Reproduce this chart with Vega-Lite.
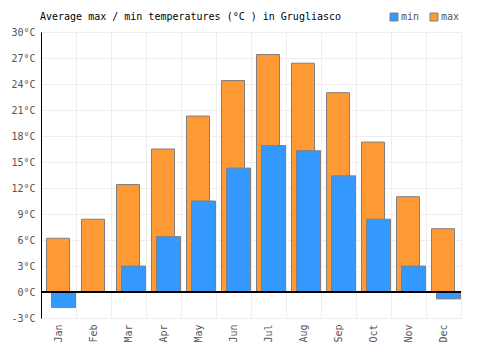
{
  "$schema": "https://vega.github.io/schema/vega-lite/v6.json",
  "width": 420,
  "height": 286,
  "autosize": {"type": "none"},
  "padding": {"left": 41, "top": 32, "right": 39, "bottom": 32},
  "background": "white",
  "config": {
    "font": "DejaVu Sans Mono",
    "view": {"stroke": null}
  },
  "title": {
    "text": "Average max / min temperatures (°C ) in Grugliasco",
    "anchor": "start",
    "frame": "group",
    "offset": 0,
    "dy": 10,
    "fontSize": 10,
    "fontWeight": "normal",
    "color": "#000000",
    "dx": -1
  },
  "data": {
    "values": [
      {"month": "Jan", "type": "max", "value": 6.2},
      {"month": "Feb", "type": "max", "value": 8.4},
      {"month": "Mar", "type": "max", "value": 12.4},
      {"month": "Apr", "type": "max", "value": 16.5},
      {"month": "May", "type": "max", "value": 20.3},
      {"month": "Jun", "type": "max", "value": 24.4},
      {"month": "Jul", "type": "max", "value": 27.4},
      {"month": "Aug", "type": "max", "value": 26.4},
      {"month": "Sep", "type": "max", "value": 23.0},
      {"month": "Oct", "type": "max", "value": 17.3},
      {"month": "Nov", "type": "max", "value": 11.0},
      {"month": "Dec", "type": "max", "value": 7.3},
      {"month": "Jan", "type": "min", "value": -1.8},
      {"month": "Feb", "type": "min", "value": 0},
      {"month": "Mar", "type": "min", "value": 3.0},
      {"month": "Apr", "type": "min", "value": 6.4},
      {"month": "May", "type": "min", "value": 10.5},
      {"month": "Jun", "type": "min", "value": 14.3},
      {"month": "Jul", "type": "min", "value": 16.9},
      {"month": "Aug", "type": "min", "value": 16.3},
      {"month": "Sep", "type": "min", "value": 13.4},
      {"month": "Oct", "type": "min", "value": 8.4},
      {"month": "Nov", "type": "min", "value": 3.0},
      {"month": "Dec", "type": "min", "value": -0.8}
    ]
  },
  "encoding": {
    "x": {
      "field": "month",
      "type": "nominal",
      "sort": ["Jan","Feb","Mar","Apr","May","Jun","Jul","Aug","Sep","Oct","Nov","Dec"],
      "scale": {"paddingInner": 0, "paddingOuter": 0},
      "axis": {
        "title": null,
        "labelAngle": -90,
        "labelAlign": "right",
        "labelBaseline": "middle",
        "labelFontSize": 10,
        "labelColor": "#555555",
        "labelPadding": 6,
        "ticks": false,
        "domain": false,
        "grid": true,
        "tickBand": "extent",
        "gridColor": "#eeeeee",
        "gridWidth": 1
      }
    },
    "y": {
      "field": "value",
      "type": "quantitative",
      "scale": {"domain": [-3, 30], "nice": false, "zero": false},
      "axis": {
        "title": null,
        "values": [-3, 0, 3, 6, 9, 12, 15, 18, 21, 24, 27, 30],
        "labelExpr": "datum.value + '°C'",
        "labelFontSize": 10,
        "labelColor": "#555555",
        "labelPadding": 6,
        "ticks": false,
        "domain": true,
        "domainColor": "#000000",
        "domainWidth": 1,
        "grid": true,
        "gridColor": "#eeeeee",
        "gridWidth": 1
      }
    },
    "color": {
      "field": "type",
      "type": "nominal",
      "scale": {"domain": ["min", "max"], "range": ["#3399ff", "#ff9933"]},
      "legend": {
        "title": null,
        "orient": "none",
        "legendX": 348,
        "legendY": -20,
        "direction": "horizontal",
        "symbolType": "square",
        "symbolSize": 64,
        "symbolStrokeColor": "#808080",
        "symbolStrokeWidth": 1,
        "symbolOpacity": 1,
        "labelFontSize": 10,
        "labelColor": "#555555",
        "labelOffset": 2,
        "columnPadding": 8
      }
    }
  },
  "layer": [
    {
      "transform": [{"filter": "datum.type == 'max'"}],
      "mark": {"type": "bar", "width": 23, "xOffset": -0.5, "stroke": "#808080", "strokeWidth": 1, "opacity": 1, "fillOpacity": 1}
    },
    {
      "transform": [{"filter": "datum.type == 'min'"}],
      "mark": {"type": "bar", "width": 24, "xOffset": 5, "stroke": "#808080", "strokeWidth": 1, "opacity": 1, "fillOpacity": 1}
    },
    {
      "mark": {"type": "rule", "color": "#000000", "strokeWidth": 1},
      "encoding": {
        "y": {"datum": 0},
        "x": null,
        "color": null
      }
    }
  ]
}
